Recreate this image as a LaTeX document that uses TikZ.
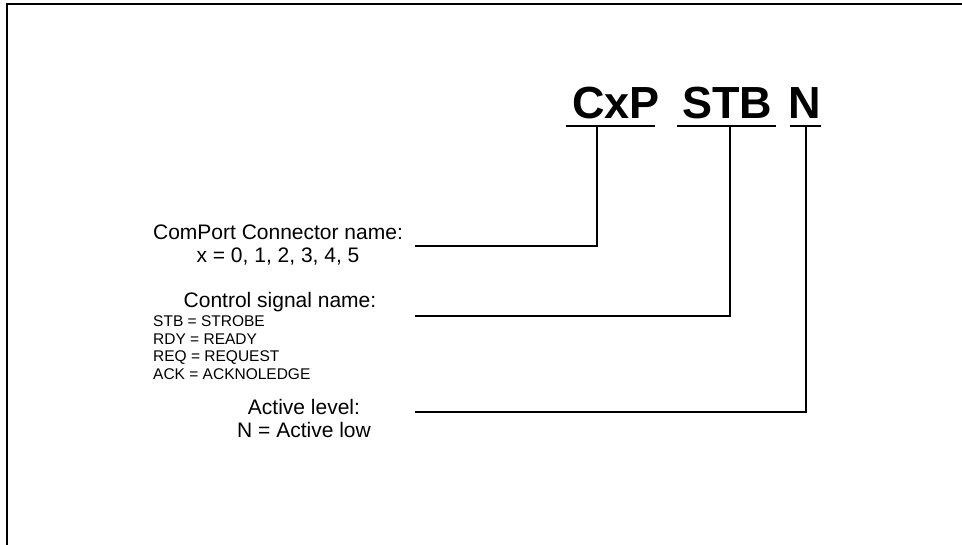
\documentclass[tikz,border=0pt]{standalone}
\usepackage{fontspec}
\setmainfont{Liberation Sans}
\begin{document}
\begin{tikzpicture}[x=1pt,y=-1pt,
  lbl/.style={inner sep=0pt,anchor=base,font=\fontsize{21}{23}\selectfont},
  small/.style={inner sep=0pt,anchor=base west,font=\fontsize{15.5}{17}\selectfont},
  title/.style={inner sep=0pt,anchor=base,font=\fontsize{45}{48}\selectfont\bfseries},
  leader/.style={draw=black,line width=1.1pt},
  frame/.style={draw=black,line width=2pt}]
\useasboundingbox (0,0) rectangle (962,545);
% frame
\draw[frame] (7,545) -- (7,4.5) -- (962,4.5);
% title
\node[title] (cxp) at (616,119) {CxP};
\node[title] (stb) at (727,119) {STB};
\node[title] (n) at (805,119) {N};
\coordinate (cxpL) at (566,126); \coordinate (cxpR) at (655,126);
\coordinate (stbL) at (677,126); \coordinate (stbR) at (776,126);
\coordinate (nL) at (790,126); \coordinate (nR) at (821,126);
\draw[leader] (cxpL) -- (cxpR);
\draw[leader] (stbL) -- (stbR);
\draw[leader] (nL) -- (nR);
\coordinate (cxpT) at (597,126);
\coordinate (stbT) at (730,126);
\coordinate (nT) at (806,126);
% labels
\node[lbl] (cp1) at (278,240) {ComPort Connector name:};
\node[lbl] (cp2) at (278,263) {x = 0, 1, 2, 3, 4, 5};
\node[lbl] (cs1) at (280,308) {Control signal name:};
\node[small] (cs2) at (153,327) {STB = STROBE};
\node[small] (cs3) at (153,344.5) {RDY = READY};
\node[small] (cs4) at (153,362) {REQ = REQUEST};
\node[small] (cs5) at (153,380) {ACK = ACKNOLEDGE};
\node[lbl] (al1) at (304,415) {Active level:};
\node[lbl] (al2) at (304,438) {N = Active low};
% leaders
\coordinate (e1) at (415,246);
\coordinate (e2) at (415,316);
\coordinate (e3) at (415,412);
\draw[leader] (e1) -| (cxpT);
\draw[leader] (e2) -| (stbT);
\draw[leader] (e3) -| (nT);
\end{tikzpicture}
\end{document}
